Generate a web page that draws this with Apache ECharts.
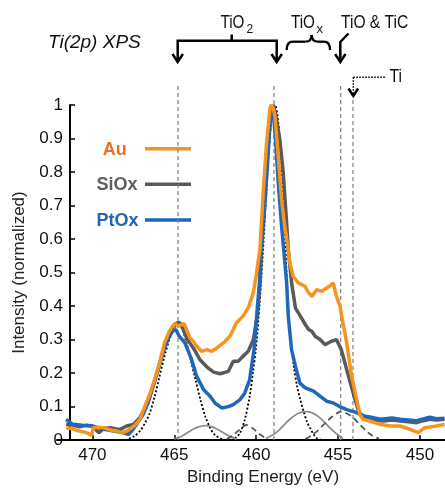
<!DOCTYPE html>
<html><head><meta charset="utf-8">
<script src="https://cdn.jsdelivr.net/npm/echarts@6/dist/echarts.min.js"></script>
<style>html,body{margin:0;padding:0;background:#fff}#c{width:445px;height:491px}</style>
</head><body><div id="c"></div>
<script>
// ---- data ----
const xTicks = [470, 465, 460, 455, 450];
const seriesNames = ['Au', 'SiOx', 'PtOx'];

const auE = [471.6,471.2,470.95,470.35,470.05,469.95,469.6,469.3,468.9,468.5,468.2,467.9,467.6,467.4,467.1,466.8,466.5,466.2,465.9,465.6,465.3,465.1,464.93,464.8,464.65,464.4,464.25,464.04,463.85,463.63,463.33,463.02,462.7,462.4,462.0,461.6,461.2,460.8,460.48,460.17,459.97,459.77,459.57,459.36,459.16,459.08,458.95,458.85,458.65,458.45,458.28,458.04,457.94,457.74,457.43,457.02,456.8,456.6,456.3,456.0,455.7,455.5,455.3,455.1,454.88,454.78,454.47,454.17,453.86,453.66,453.46,453.05,452.44,451.83,451.22,450.6,450.1,449.7,449.0,448.5];
const auI = [.037,.034,.029,.022,.014,.037,.038,.037,.030,.027,.022,.027,.037,.044,.062,.10,.136,.18,.23,.29,.325,.34,.348,.34,.342,.348,.33,.305,.295,.28,.265,.27,.265,.275,.29,.31,.35,.37,.395,.44,.50,.57,.74,.89,.99,1.0,.99,.965,.846,.717,.648,.568,.528,.489,.469,.459,.44,.429,.449,.444,.454,.46,.469,.43,.40,.37,.29,.19,.12,.075,.062,.057,.047,.042,.042,.032,.022,.037,.042,.047];

const siE = [471.6,471.2,470.8,470.4,470.0,469.6,469.3,468.9,468.6,468.3,467.9,467.5,467.1,466.8,466.5,466.2,465.9,465.6,465.3,465.0,464.8,464.67,464.45,464.2,463.84,463.43,463.0,462.6,462.2,461.7,461.4,461.1,460.8,460.48,460.17,459.93,459.77,459.67,459.5,459.3,459.1,458.95,458.8,458.55,458.35,458.14,458.04,457.84,457.6,457.3,457.0,456.8,456.6,456.4,456.1,455.8,455.4,455.1,454.8,454.47,454.07,453.77,453.46,453.05,452.6,452.2,451.7,451.2,450.7,450.2,449.8,449.4,449.0,448.5];
const siI = [.047,.045,.04,.044,.042,.022,.035,.037,.034,.032,.042,.047,.067,.095,.13,.175,.225,.28,.32,.345,.35,.35,.33,.30,.275,.24,.218,.203,.198,.205,.235,.235,.25,.265,.30,.37,.47,.57,.72,.87,.97,1.0,.97,.895,.80,.648,.57,.47,.394,.37,.345,.33,.325,.31,.30,.285,.295,.30,.27,.21,.14,.09,.065,.062,.058,.057,.06,.057,.055,.052,.058,.062,.06,.062];

const ptE = [471.6,471.2,470.6,470.0,469.3,468.7,468.1,467.8,467.6,467.3,466.9,466.6,466.3,466.0,465.7,465.4,465.1,464.9,464.7,464.35,463.94,463.63,463.2,462.8,462.5,462.1,461.7,461.4,461.0,460.7,460.4,460.13,459.97,459.8,459.7,459.5,459.3,459.15,459.0,458.85,458.65,458.45,458.3,458.14,458.04,457.84,457.6,457.33,457.0,456.5,456.1,455.7,455.3,454.9,454.47,453.86,453.36,453.05,452.44,451.7,451.2,450.7,450.2,449.8,449.4,449.0,448.5];
const ptI = [.062,.047,.044,.042,.032,.027,.022,.017,.027,.047,.077,.111,.16,.21,.26,.30,.325,.33,.31,.29,.24,.19,.15,.13,.11,.096,.10,.106,.12,.14,.18,.27,.37,.47,.57,.68,.83,.95,1.0,.92,.77,.64,.56,.47,.37,.27,.22,.17,.156,.146,.131,.116,.111,.10,.091,.082,.071,.069,.062,.066,.062,.06,.058,.063,.068,.064,.065];

// fitted components (null = gap between peaks)
const dotE = [468.0,467.5,467.1,466.8,466.5,466.2,465.9,465.6,465.3,465.0,464.75,464.5,464.25,464.0,463.7,463.4,463.1,462.8,462.5,462.1,461.8,461.6,461.3,461.0,460.7,460.4,460.2,460.0,459.8,459.6,459.4,459.2,459.0,458.85,458.7,458.5,458.3,458.1,457.9,457.7,457.5,457.3,457.1,456.9,456.7,456.5,456.3,456.0];
const dotI = [0,.01,.027,.05,.08,.13,.19,.25,.30,.335,.345,.33,.29,.24,.18,.12,.07,.035,.015,.003,0,null,.005,.02,.06,.13,.2,.28,.4,.55,.72,.88,.98,1.0,.97,.86,.68,.45,.3,.22,.16,.12,.085,.055,.035,.018,.006,0];

const thinE = [465.0,464.6,464.2,463.8,463.4,463.1,462.8,462.4,462.0,461.6,461.2,460.5,459.4,459.0,458.6,458.2,457.8,457.4,457.0,456.6,456.2,455.8,455.4,455.0,454.7];
const thinI = [.004,.01,.022,.034,.041,.043,.041,.033,.022,.011,.003,null,.005,.015,.03,.05,.068,.08,.085,.082,.07,.052,.032,.015,.005];

const dashE = [461.8,461.4,461.0,460.6,460.2,459.8,459.4,458.0,457.0,456.6,456.2,455.8,455.4,455.0,454.8,454.5,454.1,453.7,453.3,452.9,452.5];
const dashI = [.003,.015,.032,.045,.035,.018,.005,null,.003,.015,.03,.05,.068,.082,.085,.08,.068,.048,.028,.013,.004];

// reference energies (vertical dashed lines) and their top heights
const refE = [464.77, 458.91, 454.84, 454.09];
const refTop = [1.066, 1.066, 1.066, 1.025];

// ---- chart ----
const pairs = (e, v) => e.map((x, i) => [x, v[i] == null ? null : v[i]]);
const chart = echarts.init(document.getElementById('c'), null, {renderer: 'canvas'});
const FONT = 'Liberation Sans, Arial, Helvetica, sans-serif';

const series = [];
refE.forEach((e, i) => series.push({
  type: 'line', data: [[e, 0], [e, refTop[i]]], symbol: 'none', clip: false, silent: true,
  lineStyle: {color: '#7f7f7f', width: 1.2, type: [4, 3]}
}));
series.push({type: 'line', data: pairs(dotE, dotI), symbol: 'none', smooth: 0.3, clip: false,
  lineStyle: {color: '#000', width: 1.8, type: [2, 2]}});
series.push({type: 'line', data: pairs(thinE, thinI), symbol: 'none', smooth: 0.3,
  lineStyle: {color: '#8c8c8c', width: 1.8}});
series.push({type: 'line', data: pairs(dashE, dashI), symbol: 'none', smooth: 0.3,
  lineStyle: {color: '#555', width: 1.8, type: [6, 4]}});
series.push({name: 'SiOx', type: 'line', data: pairs(siE, siI), symbol: 'none', clip: false,
  lineStyle: {color: '#5a5a5a', width: 3.5}});
series.push({name: 'PtOx', type: 'line', data: pairs(ptE, ptI), symbol: 'none', clip: false,
  lineStyle: {color: '#1f67bd', width: 3.5}});
series.push({name: 'Au', type: 'line', data: pairs(auE, auI), symbol: 'none', clip: false,
  lineStyle: {color: '#f7941d', width: 3.5}});

const txt = (x, y, text, size, extra) => ({
  type: 'text', x: x, y: y, silent: true,
  style: Object.assign({text: text, x: 0, y: 0, fill: '#111', font: size + 'px ' + FONT, verticalAlign: 'middle', align: 'left'}, extra || {})
});
const pl = (pts, w, dash) => ({type: 'polyline', silent: true, shape: {points: pts},
  style: {stroke: '#000', lineWidth: w, fill: null, lineDash: dash || null, lineJoin: 'miter'}});
const bz = (x1, y1, cx, cy, x2, y2) => ({type: 'bezierCurve', silent: true,
  shape: {x1: x1, y1: y1, cpx1: cx, cpy1: cy, x2: x2, y2: y2},
  style: {stroke: '#000', lineWidth: 2.3, fill: null}});

const graphic = [
  // title
  {type: 'text', x: 48, y: 43, silent: true, style: {text: 'Ti(2p) XPS', fill: '#111', font: 'italic 19px ' + FONT, verticalAlign: 'middle'}},
  // TiO2 bracket + arrows
  pl([[177.7, 62], [177.7, 40.7], [276.7, 40.7], [276.7, 62]], 2.5),
  pl([[231.7, 40.7], [231.7, 34.5]], 2.5),
  pl([[172.5, 54], [177.7, 62], [182.9, 54]], 2.5),
  pl([[271.5, 54], [276.7, 62], [281.9, 54]], 2.5),
  Object.assign(txt(220.5, 23, 'TiO', 19), {scaleX: 0.8}),
  txt(246.5, 30, '2', 12),
  // TiOx brace
  bz(286.7, 50, 286.7, 41.7, 293, 41.7),
  pl([[293, 41.7], [305.5, 41.7]], 2.3),
  bz(305.5, 41.7, 311.7, 41.7, 311.7, 35),
  bz(311.7, 35, 311.7, 41.7, 318, 41.7),
  pl([[318, 41.7], [324, 41.7]], 2.3),
  bz(324, 41.7, 330, 41.7, 330, 50),
  Object.assign(txt(291, 23, 'TiO', 19), {scaleX: 0.8}),
  txt(316.5, 29, 'x', 13),
  // TiO & TiC arrow
  pl([[348.5, 33.5], [340.3, 42], [340.3, 62]], 2.5),
  pl([[335.1, 54], [340.3, 62], [345.5, 54]], 2.5),
  Object.assign(txt(341, 23, 'TiO & TiC', 19), {scaleX: 0.82}),
  // Ti dotted arrow
  pl([[353.3, 77.3], [385, 77.3]], 1.5, [1.5, 1.5]),
  pl([[353.3, 77.3], [353.3, 94]], 1.5, [1.5, 1.5]),
  pl([[348.5, 88.5], [353.3, 96], [358.1, 88.5]], 2.5),
  Object.assign(txt(389.5, 77, 'Ti', 19), {scaleX: 0.82}),
  // legend
  {type: 'text', x: 114.7, y: 150, silent: true, style: {text: 'Au', fill: '#e9702b', font: 'bold 18px ' + FONT, align: 'center', verticalAlign: 'middle'}},
  {type: 'text', x: 117, y: 185, silent: true, style: {text: 'SiOx', fill: '#5f5f5f', font: 'bold 18px ' + FONT, align: 'center', verticalAlign: 'middle'}},
  {type: 'text', x: 117.5, y: 221, silent: true, style: {text: 'PtOx', fill: '#2166b5', font: 'bold 18px ' + FONT, align: 'center', verticalAlign: 'middle'}},
  {type: 'line', silent: true, shape: {x1: 145, y1: 148.7, x2: 191, y2: 148.7}, style: {stroke: '#f7941d', lineWidth: 3.5}},
  {type: 'line', silent: true, shape: {x1: 145, y1: 184.3, x2: 191, y2: 184.3}, style: {stroke: '#5a5a5a', lineWidth: 3.5}},
  {type: 'line', silent: true, shape: {x1: 145, y1: 220, x2: 191, y2: 220}, style: {stroke: '#1f67bd', lineWidth: 3.5}}
];

chart.setOption({
  animation: false,
  backgroundColor: '#fff',
  grid: {left: 57, right: 0, top: 105, bottom: 50},
  xAxis: {
    type: 'value', inverse: true, min: 448.47, max: 472.16,
    name: 'Binding Energy (eV)', nameLocation: 'middle', nameGap: 28,
    nameTextStyle: {fontSize: 17, color: '#222', fontFamily: FONT, padding: [0, 0, 0, 24]},
    axisLine: {onZero: false, lineStyle: {color: '#000', width: 2}},
    axisTick: {inside: true, length: 5, lineStyle: {color: '#000', width: 1.5}, customValues: xTicks},
    axisLabel: {fontSize: 17, color: '#111', fontFamily: FONT, margin: 7, customValues: xTicks},
    splitLine: {show: false}
  },
  yAxis: {
    type: 'value', min: 0, max: 1, interval: 0.1, offset: -13,
    name: 'Intensity (normalized)', nameLocation: 'middle', nameGap: 42,
    nameTextStyle: {fontSize: 17, color: '#222', fontFamily: FONT},
    axisLine: {show: true, lineStyle: {color: '#000', width: 2}},
    axisTick: {show: true, inside: true, length: 5, lineStyle: {color: '#000', width: 1.5}},
    axisLabel: {fontSize: 17, color: '#111', fontFamily: FONT, margin: 7},
    splitLine: {show: false}
  },
  series: series,
  graphic: graphic
});
</script></body></html>
